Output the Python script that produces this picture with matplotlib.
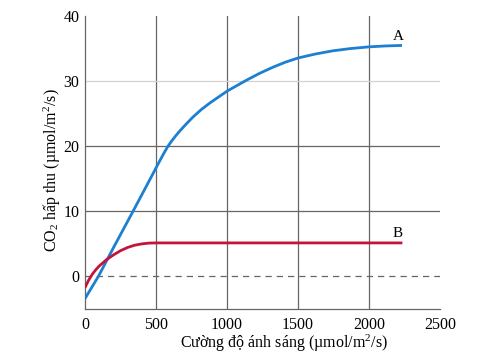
import matplotlib
matplotlib.use("Agg")
import matplotlib.pyplot as plt

plt.rcParams['font.family'] = ['Liberation Serif', 'DejaVu Serif']
plt.rcParams['mathtext.fontset'] = 'custom'
plt.rcParams['mathtext.rm'] = 'Liberation Serif'
plt.rcParams['mathtext.it'] = 'Liberation Serif:italic'

# Curve A
a_x = [0, 94, 200, 338, 450, 530, 555, 580, 605, 635, 670, 710, 761, 820, 880, 940, 1000,
       1070, 1138, 1230, 1322, 1410, 1500, 1620, 1744, 1870, 2000, 2115, 2232]
a_y = [-3.4, 0.0, 4.4, 10.0, 14.6, 17.9, 18.9, 19.85, 20.65, 21.5, 22.4, 23.35, 24.5, 25.65, 26.65, 27.55, 28.45,
       29.32, 30.15, 31.2, 32.12, 32.9, 33.55, 34.15, 34.65, 35.0, 35.26, 35.4, 35.48]
# Curve B
b_x = [0, 25, 50, 75, 100, 150, 200, 250, 300, 350, 400, 450, 500, 2235]
b_y = [-1.7, -0.6, 0.3, 1.0, 1.6, 2.55, 3.3, 3.95, 4.45, 4.8, 5.0, 5.12, 5.15, 5.15]

x_ticks = [0, 500, 1000, 1500, 2000, 2500]
y_ticks = [0, 10, 20, 30, 40]

fig = plt.figure(figsize=(4.87, 3.55), dpi=100)
ax = fig.add_axes([85 / 487, 46 / 355, 355 / 487, 293 / 355])

ax.set_xlim(0, 2500)
ax.set_ylim(-5, 40)

# grid
for xv in [500, 1000, 1500, 2000]:
    ax.axvline(xv, color='#666666', lw=0.9, zorder=1)
for yv, c in [(10, '#666666'), (20, '#666666'), (30, '#d2d2d2')]:
    ax.axhline(yv, color=c, lw=0.9, zorder=1)
ax.axhline(0, color='#666666', lw=0.9, ls=(0, (5, 4)), zorder=1)

ax.plot(a_x, a_y, color='#1b7fd2', lw=2.0, zorder=3, solid_capstyle='butt')
ax.plot(b_x, b_y, color='#c2143c', lw=2.0, zorder=3, solid_capstyle='butt')

ax.text(2204, 36.3, 'A', ha='center', va='baseline', fontsize=11)
ax.text(2204, 6.0, 'B', ha='center', va='baseline', fontsize=11)

for s in ['top', 'right']:
    ax.spines[s].set_visible(False)
for s in ['left', 'bottom']:
    ax.spines[s].set_color('#666666')
    ax.spines[s].set_linewidth(0.9)

ax.set_xticks(x_ticks)
ax.set_yticks(y_ticks)
ax.tick_params(length=0, labelsize=11.5)
ax.tick_params(axis='y', pad=4)
ax.tick_params(axis='x', pad=6)

ax.set_xlabel('Cường độ ánh sáng (µmol/m$^{2}$/s)', fontsize=11.5)
ax.set_ylabel('CO$_{2}$ hấp thu (µmol/m$^{2}$/s)', fontsize=11.5)
# reference label positions (axes fraction)
ax.xaxis.set_label_coords((284 - 85) / 355, -(343 - 309) / 293)
ax.yaxis.set_label_coords(-(85 - 52) / 355, (309 - 170) / 293)
ax.xaxis.label.set_va('center')
ax.yaxis.label.set_va('center')

fig.savefig('out.png', dpi=100)
